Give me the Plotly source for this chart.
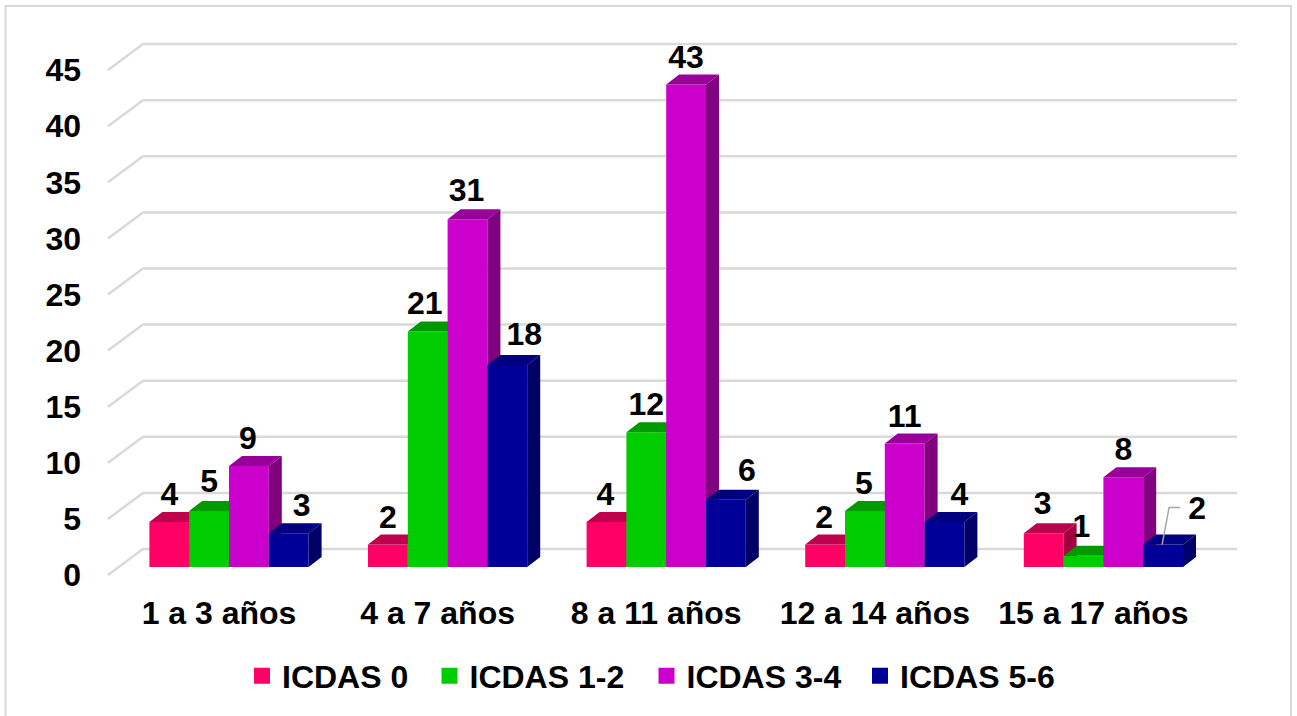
import plotly.graph_objects as go

# Chart data
categories = ["1 a 3 años", "4 a 7 años", "8 a 11 años", "12 a 14 años", "15 a 17 años"]
series_names = ["ICDAS 0", "ICDAS 1-2", "ICDAS 3-4", "ICDAS 5-6"]
icdas_0 = [4, 2, 4, 2, 3]
icdas_1_2 = [5, 21, 12, 5, 1]
icdas_3_4 = [9, 31, 43, 11, 8]
icdas_5_6 = [3, 18, 6, 4, 2]
y_ticks = [0, 5, 10, 15, 20, 25, 30, 35, 40, 45]

# Face colours per series: front, top, side
front_colors = ["#FF0066", "#00CC00", "#CC00CC", "#000099"]
top_colors = ["#BF004C", "#009900", "#990099", "#000080"]
side_colors = ["#A30041", "#008200", "#800080", "#000066"]

# Label nudges in pixels, per series and category
label_dx = [[0, 0, -1, -1, -1], [0, -3, 0, -1, -2], [-1, -1, 0, 0, 0], [13, 17, 21, 15, 34]]
label_lift = [[25, 25, 25, 25, 27], [27, 25, 25, 25, 27], [25, 26, 25, 25, 25], [25, 28, 27, 25, 34]]

# Left pixel of each legend entry
legend_left = [242, 429.5, 646.5, 860]

all_series = [icdas_0, icdas_1_2, icdas_3_4, icdas_5_6]

# Canvas and scale geometry in pixels
W, H = 1297, 716
PLOT_L, PLOT_R, PLOT_T, PLOT_B = 82, 1250, 30, 591
PX_PER_CAT = 218.6
PX_PER_UNIT = 11.22
TICK0_X = 219.0       # pixel of the first category tick
WALL_ZERO_Y = 575.0   # pixel of value 0 on the front wall edge
BAR_ZERO_Y = 567.0    # pixel of value 0 at the bar fronts
BAR_W = 39.8 / PX_PER_CAT
GROUP_SHIFT = 10.0 / PX_PER_CAT
DEPTH_X = 13.0 / PX_PER_CAT
DEPTH_Y = 10.0 / PX_PER_UNIT
WALL_X0, WALL_X1 = 108.0, 143.0
WALL_END = 1237.0
WALL_RISE = 26.0 / PX_PER_UNIT


def x_of(px):
    return (px - TICK0_X) / PX_PER_CAT


def y_range(zero_px):
    return [(zero_px - PLOT_B) / PX_PER_UNIT, (zero_px - PLOT_T) / PX_PER_UNIT]


fig = go.Figure()

# Floor and back wall lines
wx, wy = [], []
for t in y_ticks:
    wx += [x_of(WALL_X0), x_of(WALL_X1), x_of(WALL_END), None]
    wy += [t, t + WALL_RISE, t + WALL_RISE, None]
fig.add_trace(go.Scatter(x=wx, y=wy, mode="lines", line=dict(color="#D9D9D9", width=2.5),
                         hoverinfo="skip", showlegend=False, yaxis="y"))

# One overlaid subplot per series, so each series paints over the previous one
for s, values in enumerate(all_series):
    axis = f"y{s + 2}"
    xs = [i + GROUP_SHIFT + (s - 1.5) * BAR_W for i in range(len(categories))]
    fig.add_trace(go.Bar(x=xs, y=values, width=BAR_W, marker=dict(color=front_colors[s], line=dict(width=0)),
                         name=series_names[s], showlegend=False, yaxis=axis))
    top_x, top_y, side_x, side_y = [], [], [], []
    for x, v in zip(xs, values):
        l, r = x - BAR_W / 2, x + BAR_W / 2
        top_x += [l, l + DEPTH_X, r + DEPTH_X, r, l, None]
        top_y += [v, v + DEPTH_Y, v + DEPTH_Y, v, v, None]
        side_x += [r, r + DEPTH_X, r + DEPTH_X, r, r, None]
        side_y += [0, DEPTH_Y, v + DEPTH_Y, v, 0, None]
    for px, py, col in ((top_x, top_y, top_colors[s]), (side_x, side_y, side_colors[s])):
        fig.add_trace(go.Scatter(x=px, y=py, mode="lines", fill="toself", fillcolor=col,
                                 line=dict(width=0, color=col), hoverinfo="skip",
                                 showlegend=False, yaxis=axis))

# Value labels and the leader line of the last label
lx, ly, lt = [], [], []
for s, values in enumerate(all_series):
    for i, v in enumerate(values):
        lx.append(i + GROUP_SHIFT + (s - 1.5) * BAR_W + label_dx[s][i] / PX_PER_CAT)
        ly.append(v + label_lift[s][i] / PX_PER_UNIT)
        lt.append(str(v))

last = icdas_5_6[-1]
last_x = len(categories) - 1 + GROUP_SHIFT + 1.5 * BAR_W
fig.add_trace(go.Scatter(
    x=[last_x - 1 / PX_PER_CAT, last_x + 6 / PX_PER_CAT, last_x + 17 / PX_PER_CAT],
    y=[last, last + 37 / PX_PER_UNIT, last + 37 / PX_PER_UNIT],
    mode="lines", line=dict(color="#A6A6A6", width=1.5), hoverinfo="skip",
    showlegend=False, yaxis="y5"))
fig.add_trace(go.Scatter(x=lx, y=ly, text=lt, mode="text", textposition="middle center",
                         textfont=dict(family="Liberation Sans", size=32, color="#000000", weight="bold"),
                         hoverinfo="skip", showlegend=False, yaxis="y5"))

# Legend entries, each in its own legend box
legend_keys = ["legend", "legend2", "legend3", "legend4"]
for s, name in enumerate(series_names):
    fig.add_trace(go.Scatter(x=[None], y=[None], mode="markers", name=name, legend=legend_keys[s],
                             marker=dict(symbol="square", size=16, color=front_colors[s]),
                             yaxis="y5"))

font = dict(family="Liberation Sans", size=32, color="#000000", weight="bold")
plot_w, plot_h = PLOT_R - PLOT_L, PLOT_B - PLOT_T
layout = dict(
    width=W, height=H,
    margin=dict(l=PLOT_L, r=W - PLOT_R, t=PLOT_T, b=H - PLOT_B),
    paper_bgcolor="#FFFFFF", plot_bgcolor="rgba(0,0,0,0)",
    barmode="overlay", font=font,
    xaxis=dict(range=[x_of(PLOT_L), x_of(PLOT_R)], tickvals=list(range(len(categories))),
               ticktext=categories, showgrid=False, zeroline=False, showline=False, ticks="",
               tickfont=font, fixedrange=True),
    yaxis=dict(range=y_range(WALL_ZERO_Y), tickvals=y_ticks, showgrid=False, zeroline=False,
               showline=False, ticks="", tickfont=font, fixedrange=True),
    shapes=[dict(type="rect", xref="paper", yref="paper",
                 x0=(5.5 - PLOT_L) / plot_w, x1=(1291 - PLOT_L) / plot_w,
                 y0=(PLOT_B - 730) / plot_h, y1=(PLOT_B - 6) / plot_h,
                 line=dict(color="#D9D9D9", width=2), fillcolor="rgba(0,0,0,0)", layer="below")],
)
for key, left in zip(legend_keys, legend_left):
    layout[key] = dict(orientation="h", x=(left - PLOT_L) / plot_w, xanchor="left",
                       y=(PLOT_B - 676) / plot_h, yanchor="middle",
                       bgcolor="rgba(0,0,0,0)", font=font, itemclick=False, itemdoubleclick=False)
for s in range(4):
    layout[f"yaxis{s + 2}"] = dict(range=y_range(BAR_ZERO_Y), overlaying="y", visible=False, fixedrange=True)
fig.update_layout(**layout)

fig.write_html("out.html")
